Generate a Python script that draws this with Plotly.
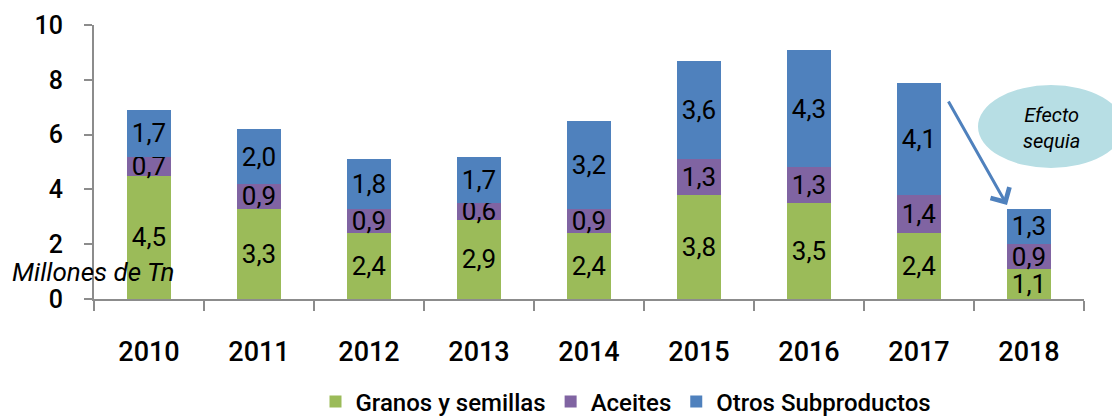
import plotly.graph_objects as go

years = ["2010", "2011", "2012", "2013", "2014", "2015", "2016", "2017", "2018"]
granos = [4.5, 3.3, 2.4, 2.9, 2.4, 3.8, 3.5, 2.4, 1.1]
aceites = [0.7, 0.9, 0.9, 0.6, 0.9, 1.3, 1.3, 1.4, 0.9]
otros = [1.7, 2.0, 1.8, 1.7, 3.2, 3.6, 4.3, 4.1, 1.3]

series = [
    ("Granos y semillas", granos, "#9BBB59"),
    ("Aceites", aceites, "#8064A2"),
    ("Otros Subproductos", otros, "#4F81BD"),
]

FONT = "Roboto"

fig = go.Figure()
for name, vals, col in series:
    fig.add_trace(go.Bar(
        x=years, y=vals, name=name,
        marker=dict(color=col, line=dict(width=0)),
        text=[f"{v:.1f}".replace(".", ",") for v in vals],
        textposition="inside", insidetextanchor="middle",
        constraintext="none",
        textfont=dict(family=FONT, size=26, color="black"),
        hoverinfo="skip",
    ))

fig.update_layout(
    barmode="stack", bargap=0.6,
    width=1112, height=418,
    margin=dict(l=94, r=28, t=25, b=119, autoexpand=False),
    plot_bgcolor="white", paper_bgcolor="white",
    font=dict(family=FONT, color="black"),
    showlegend=True,
    legend=dict(orientation="h", xref="container", x=626 / 1112, xanchor="center",
                yref="container", y=1 - 402 / 418, yanchor="middle",
                font=dict(family=FONT, size=24, color="black", weight=500),
                traceorder="normal", itemwidth=30),
    xaxis=dict(type="category", showline=True, linecolor="#8c8c8c", linewidth=2,
               ticks="outside", tickson="boundaries", ticklen=10, tickcolor="#8c8c8c",
               tickwidth=2, ticklabelstandoff=28, automargin=False,
               tickfont=dict(family=FONT, size=27, color="black", weight=500),
               showgrid=False),
    yaxis=dict(range=[0, 10], tickvals=[0, 2, 4, 6, 8, 10], showline=True,
               linecolor="#8c8c8c", linewidth=2, ticks="outside", ticklen=8,
               tickcolor="#8c8c8c", tickwidth=2, showgrid=False, zeroline=False,
               ticklabelstandoff=16, automargin=False,
               tickfont=dict(family=FONT, size=25, color="black", weight=500)),
)

fig.add_annotation(text="Millones de Tn", xref="paper", x=(10 - 94) / 990, xanchor="left",
                   yref="y", y=1.0, yanchor="middle", showarrow=False,
                   font=dict(family=FONT, size=26, color="black", style="italic"))

fig.add_shape(type="circle", xref="paper", yref="y",
              x0=(978 - 94) / 990, x1=(1124 - 94) / 990, y0=4.78, y1=7.81,
              fillcolor="#B7DEE4", line=dict(width=0), layer="above")
fig.add_annotation(text="Efecto<br>sequia", xref="paper", x=(1051 - 94) / 990,
                   xanchor="center", yref="y", y=6.25, yanchor="middle",
                   showarrow=False, align="center",
                   font=dict(family=FONT, size=20, color="black", style="italic"))

fig.add_annotation(x=7.8, y=3.43, xref="x", yref="y", ax=7.26, ay=7.26,
                   axref="x", ayref="y", text="", showarrow=True,
                   arrowhead=4, arrowsize=1.4, arrowwidth=3, arrowcolor="#4F81BD")

fig.write_html("out.html", config={"displayModeBar": False},
               post_script="document.body.style.margin='0';")
